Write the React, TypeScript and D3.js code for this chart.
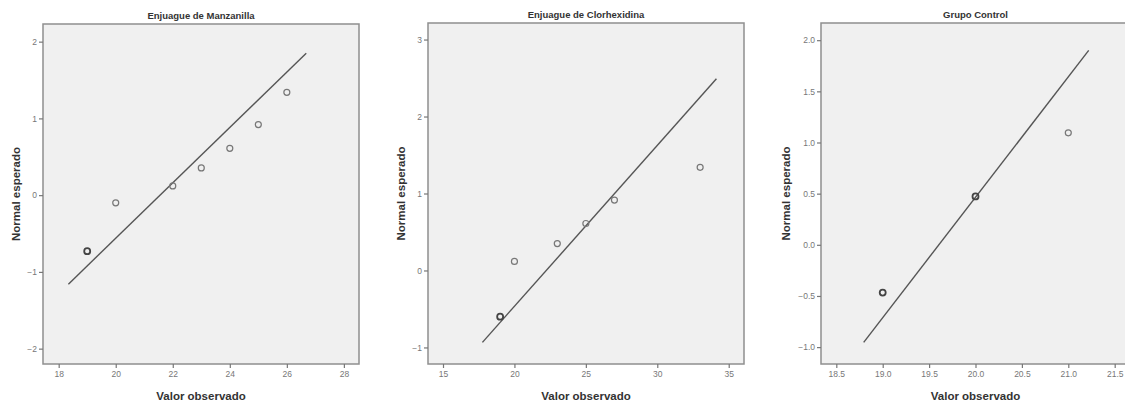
import React, { useEffect, useRef } from 'react'
import * as d3 from 'd3'

const WIDTH = 1125
const HEIGHT = 405

// Enjuague de Manzanilla
const manzObserved = [19, 20, 22, 23, 24, 25, 26]
const manzExpected = [-0.73, -0.1, 0.12, 0.355, 0.61, 0.92, 1.34]
const manzLineX = [18.34, 26.68]
const manzLineY = [-1.16, 1.85]
const manzXTicks = [18, 20, 22, 24, 26, 28]
const manzYTicks = [-2, -1, 0, 1, 2]

// Enjuague de Clorhexidina
const clorObserved = [19, 20, 23, 25, 27, 33]
const clorExpected = [-0.6, 0.117, 0.35, 0.61, 0.915, 1.34]
const clorLineX = [17.76, 34.14]
const clorLineY = [-0.934, 2.49]
const clorXTicks = [15, 20, 25, 30, 35]
const clorYTicks = [-1, 0, 1, 2, 3]

// Grupo Control
const ctrlObserved = [19, 20, 21]
const ctrlExpected = [-0.467, 0.473, 1.095]
const ctrlLineX = [18.795, 21.22]
const ctrlLineY = [-0.953, 1.9]
const ctrlXTicks = [18.5, 19, 19.5, 20, 20.5, 21, 21.5]
const ctrlYTicks = [-1, -0.5, 0, 0.5, 1, 1.5, 2]

// points drawn with a heavier ring (repeated values)
const manzHeavy = [19]
const clorHeavy = [19]
const ctrlHeavy = [19, 20]

const titles = ['Enjuague de Manzanilla', 'Enjuague de Clorhexidina', 'Grupo Control']

const panels = [
  {
    title: titles[0], obs: manzObserved, exp: manzExpected, lx: manzLineX, ly: manzLineY, heavy: manzHeavy,
    xTicks: manzXTicks, yTicks: manzYTicks, xDomain: [17.45, 28.53], yDomain: [-2.2, 2.23],
    box: { l: 43, r: 359, t: 24, b: 364 }, fmt: d3.format('d'), yLabelX: 16,
  },
  {
    title: titles[1], obs: clorObserved, exp: clorExpected, lx: clorLineX, ly: clorLineY, heavy: clorHeavy,
    xTicks: clorXTicks, yTicks: clorYTicks, xDomain: [13.95, 36.07], yDomain: [-1.215, 3.215],
    box: { l: 428, r: 744, t: 23, b: 364 }, fmt: d3.format('d'), yLabelX: 401,
  },
  {
    title: titles[2], obs: ctrlObserved, exp: ctrlExpected, lx: ctrlLineX, ly: ctrlLineY, heavy: ctrlHeavy,
    xTicks: ctrlXTicks, yTicks: ctrlYTicks, xDomain: [18.335, 21.665], yDomain: [-1.165, 2.168],
    box: { l: 821, r: 1130, t: 23, b: 364 }, fmt: d3.format('.1f'), yLabelX: 786,
  },
]

export default function App() {
  const ref = useRef<SVGSVGElement>(null)

  useEffect(() => {
    const svg = d3.select(ref.current)
    svg.selectAll('*').remove()

    panels.forEach((p) => {
      const { l, r, t, b } = p.box
      const x = d3.scaleLinear().domain(p.xDomain).range([l, r])
      const y = d3.scaleLinear().domain(p.yDomain).range([b, t])
      const g = svg.append('g')

      g.append('rect')
        .attr('x', l).attr('y', t)
        .attr('width', r - l).attr('height', b - t)
        .attr('fill', '#f0f0f0')
        .attr('stroke', '#8f8f8f')
        .attr('stroke-width', 1.5)

      const xAxis = g.append('g')
        .attr('transform', `translate(0, ${b})`)
        .call(d3.axisBottom(x).tickValues(p.xTicks).tickFormat(p.fmt as any).tickSize(4).tickPadding(3))
      const yAxis = g.append('g')
        .attr('transform', `translate(${l}, 0)`)
        .call(d3.axisLeft(y).tickValues(p.yTicks).tickFormat(p.fmt as any).tickSize(4).tickPadding(2))

      ;[xAxis, yAxis].forEach((ax) => {
        ax.select('.domain').remove()
        ax.selectAll('line').attr('stroke', '#777').attr('stroke-width', 1.2)
        ax.selectAll('text')
          .attr('fill', '#777')
          .attr('font-size', 8.5)
          .attr('font-family', 'Arial, Liberation Sans, sans-serif')
      })

      g.append('line')
        .attr('x1', x(p.lx[0])).attr('y1', y(p.ly[0]))
        .attr('x2', x(p.lx[1])).attr('y2', y(p.ly[1]))
        .attr('stroke', '#555')
        .attr('stroke-width', 1.4)

      g.selectAll('circle.pt')
        .data(p.obs)
        .enter()
        .append('circle')
        .attr('class', 'pt')
        .attr('cx', (d) => x(d))
        .attr('cy', (d, i) => y(p.exp[i]))
        .attr('r', 3)
        .attr('fill', 'none')
        .attr('stroke', (d) => p.heavy.includes(d) ? '#444' : '#777')
        .attr('stroke-width', (d) => p.heavy.includes(d) ? 1.8 : 1.2)

      g.append('text')
        .attr('x', (l + r) / 2)
        .attr('y', t - 5)
        .attr('text-anchor', 'middle')
        .attr('font-family', 'Arial, Liberation Sans, sans-serif')
        .attr('font-weight', 'bold')
        .attr('font-size', 9.5)
        .attr('fill', '#333')
        .text(p.title)

      g.append('text')
        .attr('x', (l + r) / 2)
        .attr('y', 400)
        .attr('text-anchor', 'middle')
        .attr('font-family', 'Arial, Liberation Sans, sans-serif')
        .attr('font-weight', 'bold')
        .attr('font-size', 11.5)
        .attr('fill', '#333')
        .text('Valor observado')

      g.append('text')
        .attr('transform', `translate(${p.yLabelX}, ${(t + b) / 2}) rotate(-90)`)
        .attr('text-anchor', 'middle')
        .attr('dy', '0.35em')
        .attr('font-family', 'Arial, Liberation Sans, sans-serif')
        .attr('font-weight', 'bold')
        .attr('font-size', 11.5)
        .attr('fill', '#333')
        .text('Normal esperado')
    })
  }, [])

  return (
    <svg
      ref={ref}
      width={WIDTH}
      height={HEIGHT}
      style={{ position: 'absolute', left: 0, top: 0, background: '#fff' }}
    />
  )
}
